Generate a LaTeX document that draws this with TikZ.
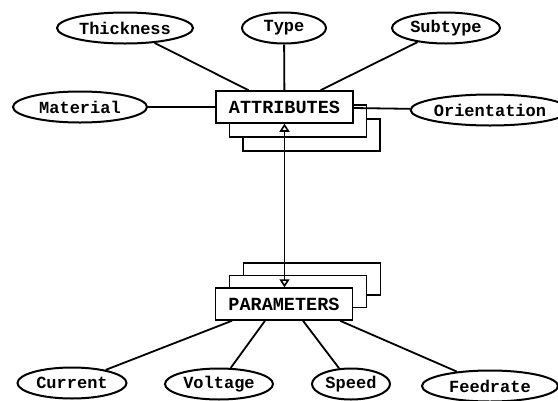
\documentclass[tikz,border=0pt]{standalone}
\usepackage{fontspec}
\setmonofont{Liberation Mono}
\usetikzlibrary{shapes.geometric,shadows,arrows.meta,calc}

\begin{document}
\begin{tikzpicture}[x=1pt,y=-1pt,
  entity/.style={draw,line width=1.5pt,fill=white,minimum width=137pt,minimum height=32pt,inner sep=0pt,
    font=\ttfamily\bfseries\fontsize{18.5}{20}\selectfont},
  attrib/.style={draw,ellipse,line width=2pt,fill=white,minimum height=31pt,inner sep=0pt,
    font=\ttfamily\bfseries\fontsize{17}{20}\selectfont},
  link/.style={line width=1.8pt}]
\useasboundingbox (0,0) rectangle (558,400);

% the two stacked boxes
\path (284.5,107) node[entity,double copy shadow={shadow xshift=13.5pt,shadow yshift=-14pt,draw=black,fill=white,line width=1.5pt}] (attr) {ATTRIBUTES};
\path (284,304) node[entity,double copy shadow={shadow xshift=14pt,shadow yshift=12.5pt,draw=black,fill=white,line width=1.5pt}] (par) {PARAMETERS};

\draw[line width=1.6pt,{Triangle[open,length=8pt,width=10pt]}-{Triangle[open,length=8pt,width=10pt]}] (attr.south) -- (attr.south |- par.north);

% attributes
\foreach \x/\y/\w/\nm/\txt in {125/28/136/thick/Thickness, 284/28/84/type/Type, 446/28/108/subtype/Subtype,
  80/107/134/mat/Material, 490/110/134/orient/Orientation}
{
	\path (\x,\y) node[attrib,minimum width=\w pt] (\nm) {\txt};
}
\draw[link] (thick) -- ([xshift=-36pt]attr.north);
\draw[link] (type) -- (attr);
\draw[link] (subtype) -- ([xshift=36pt]attr.north);
\draw[link] (mat) -- (attr);
\draw[link] (orient) -- (attr);

% parameters
\foreach \x/\y/\w/\nm/\txt/\dx in {72/383/109/cur/Current/-52, 219/384/108/volt/Voltage/-19,
  351/384/78/speed/Speed/19, 490/386/136/feed/Feedrate/56}
{
	\path (\x,\y) node[attrib,minimum width=\w pt] (\nm) {\txt};
	\draw[link] (\nm) -- ([xshift=\dx pt]par.south);
}

\end{tikzpicture}
\end{document}
